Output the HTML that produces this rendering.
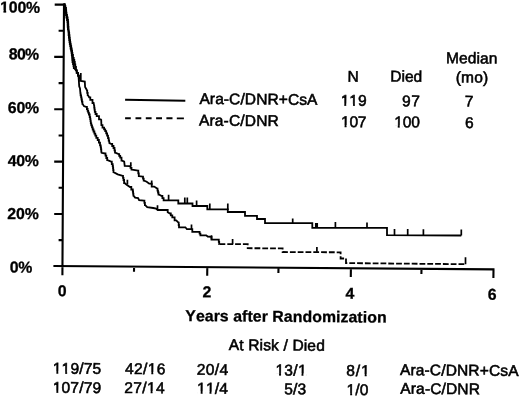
<!DOCTYPE html>
<html><head><meta charset="utf-8"><style>
html,body{margin:0;padding:0;background:#fff;}
body{width:520px;height:397px;overflow:hidden;font-family:"Liberation Sans",sans-serif;}
svg{display:block;filter:grayscale(1);}
text{font-family:"Liberation Sans",sans-serif;}
</style></head><body>
<svg width="520" height="397" viewBox="0 0 520 397">
<rect width="520" height="397" fill="#fff"/>
<g fill="none" stroke="#000" stroke-linecap="butt" stroke-linejoin="miter">
<path d="M64.0 3.3 L62.4 275.2 M53.4 266.0 L494.5 269.4 M58.6 240.1 L62.6 240.1 M54.2 214.0 L62.8 214.0 M58.6 187.8 L62.9 187.8 M54.2 161.6 L63.1 161.6 M58.6 135.5 L63.2 135.5 M54.2 109.3 L63.4 109.3 M58.6 83.1 L63.5 83.1 M54.2 56.9 L63.7 56.9 M58.6 30.8 L63.8 30.8 M54.7 4.6 L65.7 4.6 M134.1 266.6 L134.0 271.8 M207.3 267.2 L207.2 275.8 M278.5 267.7 L278.4 272.9 M350.9 268.3 L350.8 276.9 M421.5 268.8 L421.4 274.0 M493.5 269.4 L493.4 278.0" stroke-width="2.1"/>
<path d="M64.3 4.3 L64.7 4.3 L64.7 6.2 L65.4 6.2 L65.4 8.0 L65.8 8.0 L66.0 8.0 L66.0 10.3 L66.2 10.3 L66.2 12.7 L66.5 12.7 L66.5 15.0 L66.7 15.0 L67.0 15.0 L67.0 17.5 L67.6 17.5 L67.6 20.0 L67.9 20.0 L68.0 20.0 L68.0 22.2 L68.2 22.2 L68.2 24.5 L68.3 24.5 L68.3 26.8 L68.5 26.8 L68.5 29.0 L68.6 29.0 L69.1 32.6 L69.2 32.6 L69.2 35.1 L69.5 35.1 L69.5 37.6 L69.8 37.6 L69.8 40.1 L69.9 40.1 L70.1 40.1 L70.1 42.1 L70.4 42.1 L70.4 44.2 L70.8 44.2 L70.8 46.2 L71.0 46.2 L71.2 46.2 L71.2 48.5 L71.7 48.5 L71.7 50.7 L71.9 50.7 L72.1 50.7 L72.1 52.9 L72.4 52.9 L72.4 55.0 L72.6 55.0 L73.0 55.0 L73.0 58.0 L73.4 58.0 L73.7 58.0 L73.7 60.0 L74.3 60.0 L74.3 62.0 L74.6 62.0 L74.8 62.0 L74.8 64.5 L75.3 64.5 L75.3 67.0 L75.5 67.0 L76.0 67.0 L76.0 70.3 L76.4 70.3 L76.9 70.3 L76.9 72.9 L78.0 72.9 L78.0 75.6 L78.5 75.6 L79.0 75.6 L79.0 78.2 L80.1 78.2 L80.1 80.8 L80.6 80.8 L84.8 81.5 L85.1 87.0 L86.4 89.2 L87.0 90.6 L87.2 90.6 L87.2 92.8 L87.7 92.8 L87.7 95.1 L87.9 95.1 L89.2 97.3 L90.3 97.3 L90.3 99.9 L91.4 99.9 L92.5 99.9 L92.5 103.0 L93.6 103.0 L94.1 105.6 L94.2 105.6 L94.2 107.7 L94.5 107.7 L94.5 109.7 L94.8 109.7 L94.8 111.8 L95.0 111.8 L95.5 111.8 L95.5 114.0 L96.7 114.0 L96.7 116.2 L97.2 116.2 L99.0 116.2 L99.0 119.3 L100.7 119.3 L101.2 119.8 L101.4 125.1 L102.5 125.1 L102.5 127.7 L103.6 127.7 L104.1 127.7 L104.1 129.4 L105.2 129.4 L105.2 131.2 L105.8 131.2 L106.2 131.2 L106.2 133.4 L107.1 133.4 L107.1 135.6 L107.6 135.6 L108.0 135.6 L108.0 138.1 L108.7 138.1 L108.7 140.5 L109.1 140.5 L109.4 143.1 L111.6 144.0 L112.2 144.0 L112.2 146.0 L113.5 146.0 L113.5 148.0 L114.2 148.0 L114.5 148.0 L114.5 150.3 L115.0 150.3 L115.0 152.6 L115.2 152.6 L118.7 154.1 L119.2 154.1 L119.2 155.8 L120.2 155.8 L120.2 157.6 L120.7 157.6 L121.5 157.6 L121.5 160.7 L122.2 160.7 L124.2 161.7 L124.7 165.9 L130.0 166.2 L130.5 166.2 L130.5 167.9 L131.5 167.9 L131.5 169.6 L132.0 169.6 L138.1 170.6 L138.3 170.6 L138.3 173.3 L138.8 173.3 L138.8 176.1 L139.1 176.1 L142.6 176.6 L143.0 176.6 L143.0 178.6 L143.7 178.6 L143.7 180.7 L144.1 180.7 L146.7 181.7 L149.2 183.7 L151.7 183.7 L151.7 186.6 L154.2 186.6 L157.2 188.6 L157.5 188.6 L157.5 190.6 L158.0 190.6 L158.0 192.5 L158.5 192.5 L158.5 194.5 L158.8 194.5 L161.8 196.0 L162.4 196.0 L162.4 198.2 L163.6 198.2 L163.6 200.4 L164.2 200.4 L178.3 200.4 L178.3 203.5 L192.5 203.5 L192.5 206.0 L207.3 206.0 L207.3 209.3 L227.8 209.3 L227.8 212.0 L245.0 212.0 L245.0 215.8 L257.0 215.8 L257.0 219.0 L265.0 219.0 L265.0 223.2 L312.3 223.2 L312.3 227.8 L387.0 227.8 L387.0 235.1 L461.3 235.5" stroke-width="1.8"/>
<path d="M63.7 4.3 L64.1 4.3 L64.1 6.2 L64.8 6.2 L64.8 8.0 L65.2 8.0 L65.4 8.0 L65.4 10.3 L65.7 10.3 L65.7 12.7 L66.0 12.7 L66.0 15.0 L66.1 15.0 L66.4 15.0 L66.4 17.5 L67.0 17.5 L67.0 20.0 L67.3 20.0 L67.4 20.0 L67.4 22.2 L67.6 22.2 L67.6 24.5 L67.7 24.5 L67.7 26.8 L67.9 26.8 L67.9 29.0 L68.0 29.0 L68.5 32.6 L68.6 32.6 L68.6 35.1 L68.9 35.1 L68.9 37.6 L69.2 37.6 L69.2 40.1 L69.3 40.1 L69.5 40.1 L69.5 42.1 L69.8 42.1 L69.8 44.2 L70.2 44.2 L70.2 46.2 L70.4 46.2 L70.6 46.2 L70.6 48.5 L71.1 48.5 L71.1 50.7 L71.3 50.7 L71.5 50.7 L71.5 52.9 L71.8 52.9 L71.8 55.0 L71.9 55.0 L72.3 60.0 L72.5 60.0 L72.5 62.0 L73.0 62.0 L73.0 64.0 L73.3 64.0 L73.5 64.0 L73.5 66.0 L73.8 66.0 L73.8 68.0 L73.9 68.0 L76.0 70.3 L76.6 70.3 L76.6 72.9 L77.9 72.9 L77.9 75.6 L78.5 75.6 L78.8 80.0 L79.2 86.2 L80.0 88.5 L80.4 93.3 L80.6 93.3 L80.6 95.4 L81.1 95.4 L81.1 97.4 L81.5 97.4 L81.5 99.5 L81.7 99.5 L81.9 99.5 L81.9 101.7 L82.4 101.7 L82.4 103.9 L82.6 103.9 L83.9 106.1 L86.6 107.0 L86.9 107.0 L86.9 109.0 L87.6 109.0 L87.6 110.9 L87.9 110.9 L88.2 110.9 L88.2 112.7 L88.9 112.7 L88.9 114.5 L89.2 114.5 L89.7 114.5 L89.7 117.1 L90.1 117.1 L90.2 117.1 L90.2 119.2 L90.5 119.2 L90.5 121.2 L90.8 121.2 L90.8 123.3 L90.9 123.3 L91.3 123.3 L91.3 125.4 L92.0 125.4 L92.0 127.4 L92.7 127.4 L92.7 129.5 L93.1 129.5 L93.5 129.5 L93.5 131.5 L94.4 131.5 L94.4 133.6 L95.3 133.6 L95.3 135.6 L95.7 135.6 L96.3 135.6 L96.3 137.8 L97.7 137.8 L97.7 140.0 L98.3 140.0 L98.9 140.0 L98.9 142.7 L100.0 142.7 L100.0 145.3 L100.6 145.3 L100.7 145.3 L100.7 147.4 L101.0 147.4 L101.0 149.4 L101.3 149.4 L101.3 151.5 L101.4 151.5 L101.6 152.8 L105.1 153.5 L105.5 153.5 L105.5 155.7 L106.3 155.7 L106.3 158.0 L107.2 158.0 L107.2 160.2 L107.6 160.2 L111.1 161.7 L111.8 161.7 L111.8 164.2 L112.6 164.2 L112.7 164.2 L112.7 166.2 L113.0 166.2 L113.0 168.2 L113.2 168.2 L113.2 170.2 L113.5 170.2 L113.5 172.2 L113.6 172.2 L117.7 174.3 L122.7 175.8 L123.0 175.8 L123.0 177.9 L123.5 177.9 L123.5 180.0 L123.7 180.0 L124.1 180.0 L124.1 183.0 L124.5 183.0 L127.0 185.0 L130.0 187.0 L131.3 187.0 L131.3 189.5 L132.6 189.5 L132.8 189.5 L132.8 191.5 L133.1 191.5 L133.1 193.6 L133.4 193.6 L133.4 195.6 L133.6 195.6 L135.1 197.6 L138.1 198.1 L139.1 200.1 L144.1 200.6 L144.4 200.6 L144.4 202.9 L144.9 202.9 L144.9 205.2 L145.2 205.2 L147.2 207.2 L153.2 208.0 L156.2 208.7 L157.7 210.0 L167.7 210.0 L167.7 212.2 L170.0 213.5 L170.8 213.5 L170.8 215.4 L172.3 215.4 L172.3 217.3 L173.1 217.3 L174.6 217.3 L174.6 220.4 L176.2 220.4 L178.5 222.7 L178.7 222.7 L178.7 225.0 L179.0 225.0 L179.0 227.3 L179.2 227.3 L185.4 227.3 L186.9 229.2 L191.5 229.2 L192.3 229.2 L192.3 231.9 L193.1 231.9 L199.2 231.9 L199.6 231.9 L199.6 233.6 L200.4 233.6 L200.4 235.3 L200.8 235.3 L206.2 235.3 L207.7 236.5 L211.5 236.8 L211.5 239.6 L218.5 239.6 L218.8 239.6 L218.8 241.9 L219.2 241.9 L219.2 244.2 L219.5 244.2" stroke-width="1.8"/>
<path d="M219.5 244.2 L247.7 244.2 L247.7 248.2 L282.6 248.4 L282.6 252.0 L340.6 252.3 L340.6 258.5 L346.0 258.5 L346.0 263.1 L465.5 264.2" stroke-width="1.8" stroke-dasharray="5.8 2"/>
<path d="M80.8 73.0V81.0M130.8 162.2V166.2M151.7 180.6V185.0M168.6 194.8V200.4M184.8 197.4V203.5M187.3 197.4V203.5M196.6 200.5V206.0M209.8 203.5V209.3M227.8 203.4V210.0M292.7 218.5V223.2M315.8 223.0V227.8M317.2 223.0V227.8M335.4 222.0V227.8M367.0 222.4V227.8M394.5 229.0V235.2M407.7 229.0V235.3M423.4 229.2V235.4M461.3 229.6V235.5" stroke-width="1.7"/>
<path d="M127.4 179.8V184.5M157.5 205.3V209.5M191.5 224.5V229.2M211.5 235.3V239.6M232.6 239.0V244.2M316.9 247.0V251.8M465.5 257.3V264.2" stroke-width="1.7"/>
<path d="M125.1 99.7 L185.3 100.8" stroke-width="2"/>
<path d="M125.1 118.20H130.8M135.5 118.23H141.3M145.8 118.26H151.6M156.1 118.29H162M166.4 118.32H172.5M176.8 118.36H183.9" stroke-width="1.9"/>
</g>
<g fill="#000" stroke="#000" font-family="Liberation Sans, sans-serif">
<g transform="rotate(0.43 20.5 7.4)"><text x="0.07 8.77 17.47 26.17" y="12.65" font-size="15.8" font-weight="bold" stroke-width="0.3">100%</text><g fill="#fff" stroke="none"><rect x="0.07" y="10.18" width="3.39" height="3.46"/><rect x="6.23" y="10.18" width="2.94" height="3.46"/></g></g>
<g transform="rotate(0.43 24.0 54.2)"><text x="8.70 16.93 25.17" y="59.45" font-size="15.8" font-weight="bold" stroke-width="0.3">80%</text></g>
<g transform="rotate(0.43 23.6 107.8)"><text x="7.92 16.54 25.17" y="113.05" font-size="15.8" font-weight="bold" stroke-width="0.3">60%</text></g>
<g transform="rotate(0.43 23.3 160.8)"><text x="7.86 16.36 24.87" y="166.05" font-size="15.8" font-weight="bold" stroke-width="0.3">40%</text></g>
<g transform="rotate(0.43 23.2 213.8)"><text x="7.35 16.11 24.87" y="219.05" font-size="15.8" font-weight="bold" stroke-width="0.3">20%</text></g>
<g transform="rotate(0.43 21.1 267.4)"><text x="9.78 18.27" y="272.65" font-size="15.8" font-weight="bold" stroke-width="0.3">0%</text></g>
<g transform="rotate(0.43 62.5 291.1)"><text x="57.88" y="296.35" font-size="15.8" font-weight="bold" stroke-width="0.3">0</text></g>
<g transform="rotate(0.43 206.9 291.9)"><text x="202.45" y="297.30" font-size="15.8" font-weight="bold" stroke-width="0.3">2</text></g>
<g transform="rotate(0.43 349.8 293.4)"><text x="345.56" y="298.80" font-size="15.8" font-weight="bold" stroke-width="0.3">4</text></g>
<g transform="rotate(0.43 492.4 294.6)"><text x="487.72" y="299.85" font-size="15.8" font-weight="bold" stroke-width="0.3">6</text></g>
<g transform="rotate(0.43 285.6 316.6)"><text x="185.33 195.95 204.82 213.69 219.92 228.78 233.25 242.12 247.47 252.81 261.68 267.91 272.38 283.87 292.74 302.47 312.20 321.93 336.06 340.53 348.51 357.38 362.73 367.20 376.93" y="321.85" font-size="15.8" font-weight="bold" stroke-width="0.3">Years after Randomization</text></g>
<g transform="rotate(0.43 276.3 345.3)"><text x="228.77 239.27 243.74 248.22 259.57 263.18 271.10 279.01 283.48 287.96 292.43 303.78 307.39 316.18" y="350.45" font-size="15.5" font-weight="normal" stroke-width="0.55">At Risk / Died</text></g>
<g transform="rotate(0.43 77.4 368.6)"><text x="52.81 61.64 70.46 79.29 83.80 92.63" y="373.75" font-size="15.5" font-weight="normal" stroke-width="0.55">119/75</text><g fill="#fff" stroke="none"><rect x="52.99" y="371.74" width="3.42" height="3.01"/><rect x="58.38" y="371.74" width="3.05" height="3.01"/><rect x="61.82" y="371.74" width="3.42" height="3.01"/><rect x="67.20" y="371.74" width="3.05" height="3.01"/></g></g>
<g transform="rotate(0.43 145.1 368.9)"><text x="125.04 134.05 143.06 147.75 156.76" y="374.05" font-size="15.5" font-weight="normal" stroke-width="0.55">42/16</text><g fill="#fff" stroke="none"><rect x="147.93" y="372.04" width="3.42" height="3.01"/><rect x="153.32" y="372.04" width="3.05" height="3.01"/></g></g>
<g transform="rotate(0.43 212.6 369.7)"><text x="196.72 205.76 214.81 219.53" y="374.85" font-size="15.5" font-weight="normal" stroke-width="0.55">20/4</text></g>
<g transform="rotate(0.43 290.1 370.3)"><text x="275.51 284.42 293.33 297.93" y="375.45" font-size="15.5" font-weight="normal" stroke-width="0.55">13/1</text><g fill="#fff" stroke="none"><rect x="275.69" y="373.44" width="3.42" height="3.01"/><rect x="281.08" y="373.44" width="3.05" height="3.01"/><rect x="298.11" y="373.44" width="3.42" height="3.01"/><rect x="303.50" y="373.44" width="3.05" height="3.01"/></g></g>
<g transform="rotate(0.43 356.7 370.8)"><text x="346.33 355.89 361.13" y="375.95" font-size="15.5" font-weight="normal" stroke-width="0.55">8/1</text><g fill="#fff" stroke="none"><rect x="361.31" y="373.94" width="3.42" height="3.01"/><rect x="366.70" y="373.94" width="3.05" height="3.01"/></g></g>
<g transform="rotate(0.43 459.2 370.4)"><text x="399.97 410.46 415.78 424.56 429.87 441.22 445.68 457.03 468.38 479.73 488.94 500.29 508.19" y="375.55" font-size="15.5" font-weight="normal" stroke-width="0.55">Ara-C/DNR+CsA</text></g>
<g transform="rotate(0.43 77.3 387.7)"><text x="52.81 61.61 70.42 79.22 83.71 92.51" y="392.85" font-size="15.5" font-weight="normal" stroke-width="0.55">107/79</text><g fill="#fff" stroke="none"><rect x="52.99" y="390.84" width="3.42" height="3.01"/><rect x="58.38" y="390.84" width="3.05" height="3.01"/></g></g>
<g transform="rotate(0.43 144.7 387.9)"><text x="124.42 133.40 142.38 147.05 156.03" y="393.05" font-size="15.5" font-weight="normal" stroke-width="0.55">27/14</text><g fill="#fff" stroke="none"><rect x="147.23" y="391.04" width="3.42" height="3.01"/><rect x="152.62" y="391.04" width="3.05" height="3.01"/></g></g>
<g transform="rotate(0.43 213.1 388.5)"><text x="197.11 205.96 214.80 219.33" y="393.65" font-size="15.5" font-weight="normal" stroke-width="0.55">11/4</text><g fill="#fff" stroke="none"><rect x="197.29" y="391.64" width="3.42" height="3.01"/><rect x="202.68" y="391.64" width="3.05" height="3.01"/><rect x="206.14" y="391.64" width="3.42" height="3.01"/><rect x="211.52" y="391.64" width="3.05" height="3.01"/></g></g>
<g transform="rotate(0.43 295.2 389.1)"><text x="284.28 293.08 297.56" y="394.25" font-size="15.5" font-weight="normal" stroke-width="0.55">5/3</text></g>
<g transform="rotate(0.43 358.0 389.9)"><text x="346.61 355.35 359.79" y="395.05" font-size="15.5" font-weight="normal" stroke-width="0.55">1/0</text><g fill="#fff" stroke="none"><rect x="346.79" y="393.04" width="3.42" height="3.01"/><rect x="352.18" y="393.04" width="3.05" height="3.01"/></g></g>
<g transform="rotate(0.43 439.8 388.9)"><text x="400.37 410.86 416.17 424.94 430.24 441.59 446.04 457.38 468.73" y="394.05" font-size="15.5" font-weight="normal" stroke-width="0.55">Ara-C/DNR</text></g>
<g transform="rotate(0.43 258.4 99.3)"><text x="199.47 209.91 215.18 223.91 229.17 240.47 244.88 256.18 267.48 278.78 287.94 299.24 307.09" y="104.45" font-size="15.5" font-weight="normal" stroke-width="0.55">Ara-C/DNR+CsA</text></g>
<g transform="rotate(0.43 238.6 120.7)"><text x="198.97 209.49 214.84 223.65 228.99 240.37 244.87 256.25 267.63" y="125.85" font-size="15.5" font-weight="normal" stroke-width="0.55">Ara-C/DNR</text></g>
<g transform="rotate(0.43 353.4 76.6)"><text x="347.43" y="81.90" font-size="15.5" font-weight="normal" stroke-width="0.55">N</text></g>
<g transform="rotate(0.43 406.4 76.5)"><text x="390.23 401.45 404.93 413.58" y="81.65" font-size="15.5" font-weight="normal" stroke-width="0.55">Died</text></g>
<g transform="rotate(0.43 471.9 58.2)"><text x="445.93 458.99 467.76 476.53 480.12 488.89" y="63.35" font-size="15.5" font-weight="normal" stroke-width="0.55">Median</text></g>
<g transform="rotate(0.43 472.0 80.5)"><text x="455.74 461.12 474.26 483.10" y="82.59" font-size="15.5" font-weight="normal" stroke-width="0.55">(mo)</text></g>
<g transform="rotate(0.43 354.1 100.6)"><text x="340.71 349.41 358.11" y="105.75" font-size="15.5" font-weight="normal" stroke-width="0.55">119</text><g fill="#fff" stroke="none"><rect x="340.89" y="103.74" width="3.42" height="3.01"/><rect x="346.28" y="103.74" width="3.05" height="3.01"/><rect x="349.59" y="103.74" width="3.42" height="3.01"/><rect x="354.98" y="103.74" width="3.05" height="3.01"/></g></g>
<g transform="rotate(0.43 411.0 101.1)"><text x="402.17 411.36" y="106.25" font-size="15.5" font-weight="normal" stroke-width="0.55">97</text></g>
<g transform="rotate(0.43 469.4 101.3)"><text x="464.81" y="106.60" font-size="15.5" font-weight="normal" stroke-width="0.55">7</text></g>
<g transform="rotate(0.43 354.1 122.0)"><text x="341.01 349.43 357.86" y="127.15" font-size="15.5" font-weight="normal" stroke-width="0.55">107</text><g fill="#fff" stroke="none"><rect x="341.19" y="125.14" width="3.42" height="3.01"/><rect x="346.58" y="125.14" width="3.05" height="3.01"/></g></g>
<g transform="rotate(0.43 407.4 122.1)"><text x="394.21 402.70 411.19" y="127.25" font-size="15.5" font-weight="normal" stroke-width="0.55">100</text><g fill="#fff" stroke="none"><rect x="394.39" y="125.24" width="3.42" height="3.01"/><rect x="399.78" y="125.24" width="3.05" height="3.01"/></g></g>
<g transform="rotate(0.43 469.8 123.0)"><text x="465.11" y="128.15" font-size="15.5" font-weight="normal" stroke-width="0.55">6</text></g>
</g>
</svg>
</body></html>
